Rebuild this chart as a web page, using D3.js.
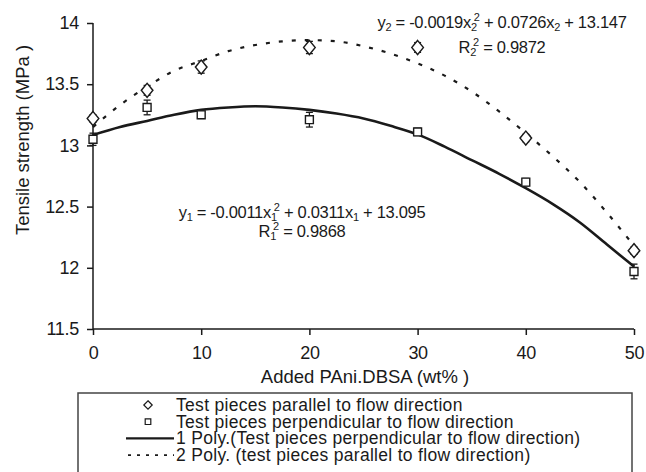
<!DOCTYPE html>
<html>
  <head>
    <meta charset="utf-8">
    <title>Tensile strength vs PAni.DBSA</title>
    <script src="https://cdnjs.cloudflare.com/ajax/libs/d3/7.8.5/d3.min.js"></script>
    <style>
      body { margin: 0; background: #fff; }
      svg { display: block; font-family: "Liberation Sans", Arial, sans-serif; fill: #1a1a1a; }
      .axis path, .axis line { stroke: #1a1a1a; stroke-width: 1.5; }
      .axis text { font-size: 18px; fill: #1a1a1a; letter-spacing: -0.3px; }
    </style>
  </head>
  <body>
    <svg id="chart" width="646" height="472"></svg>
    <script>
      // data
      var loadings = [0, 5, 10, 20, 30, 40, 50];
      var parallel = [13.22, 13.45, 13.64, 13.80, 13.80, 13.06, 12.14];
      var parallelErr = [0.03, 0.04, 0.05, 0.05, 0.04, 0.03, 0.03];
      var perpendicular = [13.05, 13.31, 13.25, 13.21, 13.11, 12.70, 11.97];
      var perpendicularErr = [0.05, 0.06, 0.03, 0.06, 0.03, 0.03, 0.06];
      // trend lines
      var trendX = [0, 2.5, 5, 7.5, 10, 12.5, 15, 17.5, 20, 22.5, 25, 27.5, 30, 32.5, 35, 37.5, 40, 42.5, 45, 47.5, 50];
      var trendParallel = [13.15, 13.33, 13.48, 13.61, 13.69, 13.77, 13.82, 13.85, 13.86, 13.85, 13.81, 13.75, 13.67, 13.57, 13.44, 13.28, 13.10, 12.91, 12.70, 12.45, 12.18];
      var trendPerpendicular = [13.085, 13.15, 13.20, 13.25, 13.29, 13.31, 13.32, 13.31, 13.29, 13.26, 13.22, 13.16, 13.09, 12.99, 12.88, 12.77, 12.65, 12.52, 12.37, 12.19, 12.01];
      var xTicks = [0, 10, 20, 30, 40, 50];
      var yTicks = [11.5, 12, 12.5, 13, 13.5, 14];
      var legendLabels = [
        "Test pieces parallel to flow direction",
        "Test pieces perpendicular to flow direction",
        "1 Poly.(Test pieces perpendicular to flow direction)",
        "2 Poly. (test pieces parallel to flow direction)"
      ];

      var ink = "#1a1a1a";
      chart = d3.select("#chart");

      // scales and axes
      x = d3.scaleLinear().domain([0, 50]).range([93, 634]);
      y = d3.scaleLinear().domain([11.5, 14]).range([329, 23]);

      xAxis = d3.axisBottom(x)
        .tickValues(xTicks)
        .tickSize(6)
        .tickSizeOuter(0)
        .tickPadding(11)
        .tickFormat(d3.format("d"));
      yAxis = d3.axisLeft(y)
        .tickValues(yTicks)
        .tickSize(6)
        .tickSizeOuter(0)
        .tickPadding(8)
        .tickFormat(function(d) { return d3.format("")(d); });

      chart.append("g")
        .classed("axis", true)
        .attr("transform", "translate(0," + y(11.5) + ")")
        .call(xAxis)
        .call(function(g) { g.select(".domain").attr("d", "M" + x(0) + ",0H" + x(50)); });
      chart.append("g")
        .classed("axis", true)
        .attr("transform", "translate(" + x(0) + ",0)")
        .call(yAxis)
        .call(function(g) { g.select(".domain").attr("d", "M0," + y(14) + "V" + y(11.5)); });

      // axis titles
      chart.append("text")
        .attr("transform", "translate(29,140) rotate(-90)")
        .attr("text-anchor", "middle")
        .style("font-size", "18.5px")
        .text("Tensile strength (MPa )");
      chart.append("text")
        .attr("x", 365)
        .attr("y", 383)
        .attr("text-anchor", "middle")
        .style("font-size", "18.5px")
        .text("Added PAni.DBSA (wt% )");

      // trend curves
      line = d3.line()
        .x(function(d) { return x(d[0]); })
        .y(function(d) { return y(d[1]); })
        .curve(d3.curveMonotoneX);
      chart.append("path")
        .attr("d", line(d3.zip(trendX, trendPerpendicular)))
        .attr("fill", "none")
        .attr("stroke", ink)
        .attr("stroke-width", 2.6);
      chart.append("path")
        .attr("d", line(d3.zip(trendX, trendParallel)))
        .attr("fill", "none")
        .attr("stroke", ink)
        .attr("stroke-width", 2.2)
        .attr("stroke-dasharray", "4,9");

      // error bars
      function errorBars(values, errs) {
        var g = chart.append("g")
          .attr("stroke", ink)
          .attr("stroke-width", 1.3);
        var bars = g.selectAll("g")
            .data(d3.zip(loadings, values, errs))
          .enter().append("g");
        bars.append("line")
          .attr("x1", function(d) { return x(d[0]); })
          .attr("x2", function(d) { return x(d[0]); })
          .attr("y1", function(d) { return y(d[1] - d[2]); })
          .attr("y2", function(d) { return y(d[1] + d[2]); });
        [-1, 1].forEach(function(s) {
          bars.append("line")
            .attr("x1", function(d) { return x(d[0]) - 3.5; })
            .attr("x2", function(d) { return x(d[0]) + 3.5; })
            .attr("y1", function(d) { return y(d[1] + s * d[2]); })
            .attr("y2", function(d) { return y(d[1] + s * d[2]); });
        });
      }
      errorBars(parallel, parallelErr);
      errorBars(perpendicular, perpendicularErr);

      // markers
      diamond = d3.symbol().type(d3.symbolDiamond2).size(95);
      square = d3.symbol().type(d3.symbolSquare2).size(80);
      chart.append("g")
        .selectAll("path")
          .data(d3.zip(loadings, parallel))
        .enter().append("path")
          .attr("d", diamond)
          .attr("transform", function(d) { return "translate(" + x(d[0]) + "," + y(d[1]) + ") scale(0.95,1.15)"; })
          .attr("fill", "#fff")
          .attr("stroke", ink)
          .attr("stroke-width", 1.4);
      chart.append("g")
        .selectAll("path")
          .data(d3.zip(loadings, perpendicular))
        .enter().append("path")
          .attr("d", square)
          .attr("transform", function(d) { return "translate(" + x(d[0]) + "," + y(d[1]) + ")"; })
          .attr("fill", "#fff")
          .attr("stroke", ink)
          .attr("stroke-width", 1.4);

      // equations: [text, dx, dy, small]
      function equation(cx, cy, parts) {
        var t = chart.append("text")
          .attr("x", cx)
          .attr("y", cy)
          .attr("text-anchor", "middle")
          .style("font-size", "16.5px")
          .style("letter-spacing", "-0.3px");
        parts.forEach(function(p) {
          t.append("tspan")
            .attr("dx", p[1])
            .attr("dy", p[2])
            .style("font-size", p[3] ? "11px" : null)
            .text(p[0]);
        });
      }
      equation(502, 28, [["y", 0, 0], ["2", 0, 3, 1], [" = -0.0019x", 0, -3], ["2", 0, 3, 1], ["2", -3, -10, 1], [" + 0.0726x", 0, 7], ["2", 0, 3, 1], [" + 13.147", 0, -3]]);
      equation(502, 53, [["R", 0, 0], ["2", 0, 3, 1], ["2", -3, -10, 1], [" = 0.9872", 0, 7]]);
      equation(302, 218, [["y", 0, 0], ["1", 0, 3, 1], [" = -0.0011x", 0, -3], ["1", 0, 3, 1], ["2", -3, -10, 1], [" + 0.0311x", 0, 7], ["1", 0, 3, 1], [" + 13.095", 0, -3]]);
      equation(302, 237, [["R", 0, 0], ["1", 0, 3, 1], ["2", -3, -10, 1], [" = 0.9868", 0, 7]]);

      // legend
      chart.append("rect")
        .attr("x", 78)
        .attr("y", 393)
        .attr("width", 554)
        .attr("height", 100)
        .attr("fill", "#fff")
        .attr("stroke", "#444")
        .attr("stroke-width", 1.5);
      legend = chart.append("g")
        .selectAll("g")
          .data(legendLabels)
        .enter().append("g")
          .attr("transform", function(d, i) { return "translate(0," + (405 + i * 16.7) + ")"; });
      legend.append("text")
        .attr("x", 176)
        .attr("y", 6)
        .style("font-size", "17.5px")
        .style("letter-spacing", "0.3px")
        .text(function(d) { return d; });
      legend.filter(function(d, i) { return i == 0; })
        .append("path")
          .attr("d", d3.symbol().type(d3.symbolDiamond2).size(45))
          .attr("transform", "translate(148,0)")
          .attr("fill", "#fff")
          .attr("stroke", ink)
          .attr("stroke-width", 1.2);
      legend.filter(function(d, i) { return i == 1; })
        .append("path")
          .attr("d", d3.symbol().type(d3.symbolSquare2).size(40))
          .attr("transform", "translate(148,0)")
          .attr("fill", "#fff")
          .attr("stroke", ink)
          .attr("stroke-width", 1.2);
      legend.filter(function(d, i) { return i == 2; })
        .append("line")
          .attr("x1", 126).attr("x2", 174)
          .attr("stroke", ink)
          .attr("stroke-width", 2.4);
      legend.filter(function(d, i) { return i == 3; })
        .append("line")
          .attr("x1", 128).attr("x2", 174)
          .attr("stroke", ink)
          .attr("stroke-width", 1.6)
          .attr("stroke-dasharray", "3,6");
    </script>
  </body>
</html>
